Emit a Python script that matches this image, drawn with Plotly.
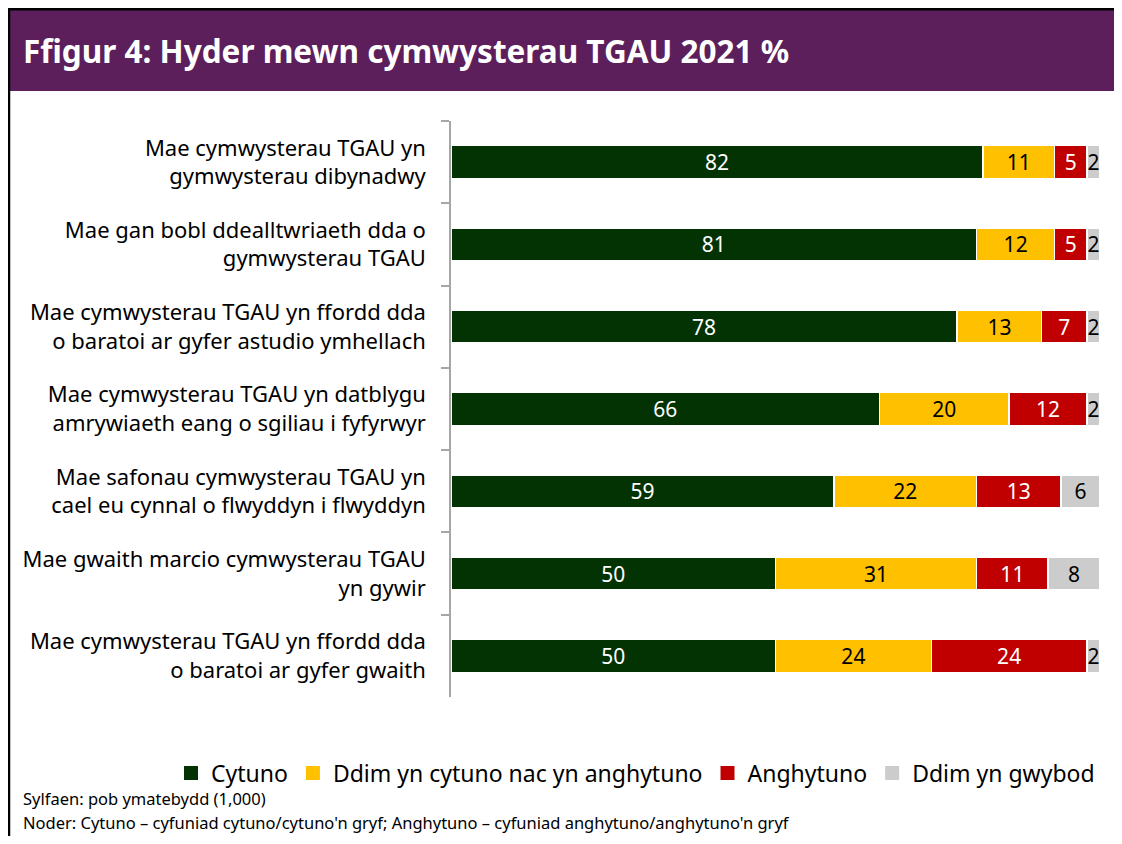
import plotly.graph_objects as go

# page body has an 8px margin, so the figure is drawn 8px in from the top-left
W, H = 1106, 828

# Data
statements = [
    "Mae cymwysterau TGAU yn<br>gymwysterau dibynadwy",
    "Mae gan bobl ddealltwriaeth dda o<br>gymwysterau TGAU",
    "Mae cymwysterau TGAU yn ffordd dda<br>o baratoi ar gyfer astudio ymhellach",
    "Mae cymwysterau TGAU yn datblygu<br>amrywiaeth eang o sgiliau i fyfyrwyr",
    "Mae safonau cymwysterau TGAU yn<br>cael eu cynnal o flwyddyn i flwyddyn",
    "Mae gwaith marcio cymwysterau TGAU<br>yn gywir",
    "Mae cymwysterau TGAU yn ffordd dda<br>o baratoi ar gyfer gwaith",
]
cytuno = [82, 81, 78, 66, 59, 50, 50]
ddim_cytuno = [11, 12, 13, 20, 22, 31, 24]
anghytuno = [5, 5, 7, 12, 13, 11, 24]
ddim_gwybod = [2, 2, 2, 2, 6, 8, 2]

series_names = ["Cytuno", "Ddim yn cytuno nac yn anghytuno", "Anghytuno", "Ddim yn gwybod"]
series_values = [cytuno, ddim_cytuno, anghytuno, ddim_gwybod]
colors = ["#033303", "#FFC000", "#C00000", "#CCCCCC"]
text_colors = ["white", "black", "white", "black"]

FONT = "Noto Sans"

fig = go.Figure()

for name, vals, col, tcol in zip(series_names, series_values, colors, text_colors):
    fig.add_trace(go.Bar(
        y=statements,
        x=vals,
        orientation="h",
        name=name,
        marker=dict(color=col, line=dict(color="white", width=1.5)),
        text=[str(v) for v in vals],
        textposition="inside",
        insidetextanchor="middle",
        textangle=0,
        textfont=dict(color=tcol, size=21, family=FONT),
        width=0.4,
        showlegend=False,
        hoverinfo="x+name",
    ))

# legend entries with small square symbols
for name, col in zip(series_names, colors):
    fig.add_trace(go.Scatter(
        x=[None], y=[None], mode="markers", name=name,
        marker=dict(symbol="square", size=14, color=col),
    ))

shapes = [
    # purple header band
    dict(type="rect", xref="paper", yref="paper",
         x0=2 / W, x1=1, y0=1 - 83 / H, y1=1 - 2 / H,
         fillcolor="#5C1F5C", line=dict(width=0), layer="below"),
    # black frame: top and left
    dict(type="line", xref="paper", yref="paper",
         x0=0, x1=1, y0=1 - 1 / H, y1=1 - 1 / H,
         line=dict(color="black", width=3)),
    dict(type="line", xref="paper", yref="paper",
         x0=1 / W, x1=1 / W, y0=0, y1=1,
         line=dict(color="black", width=2.5)),
]

annotations = [
    dict(text="<b>Ffigur 4: Hyder mewn cymwysterau TGAU 2021 %</b>",
         xref="paper", yref="paper", x=13 / W, y=1 - 42 / H,
         xanchor="left", yanchor="middle", showarrow=False,
         font=dict(color="white", size=31.5, family=FONT)),
    dict(text="Sylfaen: pob ymatebydd (1,000)",
         xref="paper", yref="paper", x=13 / W, y=1 - 790 / H,
         xanchor="left", yanchor="middle", showarrow=False,
         font=dict(color="black", size=16.5, family=FONT)),
    dict(text="Noder: Cytuno \u2013 cyfuniad cytuno/cytuno'n gryf; Anghytuno \u2013 cyfuniad anghytuno/anghytuno'n gryf",
         xref="paper", yref="paper", x=13 / W, y=0,
         xanchor="left", yanchor="bottom", showarrow=False,
         font=dict(color="black", size=16.5, family=FONT)),
]

fig.update_layout(
    width=W, height=H,
    barmode="stack",
    plot_bgcolor="white",
    paper_bgcolor="white",
    margin=dict(l=0, r=0, t=0, b=0),
    font=dict(family=FONT, color="black"),
    uniformtext=dict(minsize=21, mode="show"),
    xaxis=dict(domain=[443 / W, 1092 / W], range=[0, 100], visible=False,
               fixedrange=True),
    yaxis=dict(domain=[1 - 689 / H, 1 - 113 / H], autorange="reversed",
               showline=True, linecolor="#A6A6A6", linewidth=1.5,
               ticks="outside", ticklen=8, tickcolor="#A6A6A6", tickwidth=1.5,
               tickson="boundaries", ticklabelstandoff=19,
               tickfont=dict(size=22, color="black", family=FONT),
               automargin=False, showgrid=False),
    legend=dict(orientation="h", x=1092 / W, xanchor="right",
                y=1 - 765 / H, yanchor="middle",
                font=dict(size=23, color="black", family=FONT),
                itemwidth=30, traceorder="normal"),
    shapes=shapes,
    annotations=annotations,
)

fig.write_html("out.html")
